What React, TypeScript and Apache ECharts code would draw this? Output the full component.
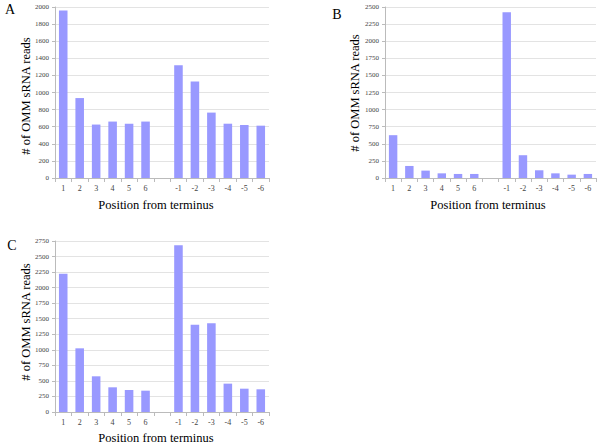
import React, { useEffect, useRef } from "react";
import * as echarts from "echarts";

const categories = ["1", "2", "3", "4", "5", "6", "", "-1", "-2", "-3", "-4", "-5", "-6"];
const valuesA = [1960, 935, 625, 660, 635, 660, null, 1320, 1130, 765, 635, 620, 612];
const valuesB = [626, 176, 108, 68, 59, 59, null, 2422, 333, 113, 68, 49, 59];
const valuesC = [2225, 1024, 574, 397, 354, 343, null, 2681, 1405, 1426, 456, 375, 365];
const yMax = [2000, 2500, 2750];
const yStep = [200, 250, 250];
const panelLetters = ["A", "B", "C"];
const xTitle = "Position from terminus";
const yTitle = "# of OMM sRNA reads";

const FONT = "Liberation Serif";

export default function App() {
  const ref = useRef<HTMLDivElement>(null);
  useEffect(() => {
    document.body.style.margin = "0";
    const chart = echarts.init(ref.current!, null, { renderer: "svg" });
    const grids = [
      { left: 55, top: 7, width: 214, height: 171 },
      { left: 385, top: 7, width: 211, height: 171 },
      { left: 55, top: 241, width: 214, height: 171 },
    ];
    const data = [valuesA, valuesB, valuesC];
    const xAxes = grids.map((_, i) => ({
      type: "category",
      gridIndex: i,
      data: categories,
      axisLine: { lineStyle: { color: "#bbbbbb", width: 1 } },
      axisTick: { show: true, interval: 0, length: 4, lineStyle: { color: "#bbbbbb" } },
      axisLabel: { interval: 0, fontFamily: FONT, fontSize: 8, color: "#444", margin: 6 },
    }));
    const yAxes = grids.map((_, i) => ({
      type: "value",
      gridIndex: i,
      min: 0,
      max: yMax[i],
      interval: yStep[i],
      axisLine: { show: true, lineStyle: { color: "#bbbbbb", width: 1 } },
      axisTick: { show: true, length: 3, lineStyle: { color: "#bbbbbb" } },
      splitLine: { lineStyle: { color: "#e3e3e3", width: 1 } },
      axisLabel: {
        fontFamily: FONT,
        fontSize: 7,
        color: "#444",
        margin: 6,
        formatter: (v: number) => String(v),
      },
    }));
    const series = data.map((d, i) => ({
      type: "bar",
      xAxisIndex: i,
      yAxisIndex: i,
      data: d,
      barWidth: "52%",
      itemStyle: { color: "#9999ff" },
    }));
    const xTitlePos = [
      [156, 205],
      [488, 205],
      [156, 438],
    ];
    const yTitlePos = [
      [26, 96],
      [355, 93],
      [26, 322],
    ];
    const letterPos = [
      [10, 9],
      [337, 14],
      [12, 245],
    ];
    const graphic: any[] = [];
    for (let i = 0; i < 3; i++) {
      graphic.push({
        type: "text",
        x: xTitlePos[i][0],
        y: xTitlePos[i][1],
        style: {
          text: xTitle,
          fontFamily: FONT,
          fontSize: 12.5,
          fill: "#000",
          textAlign: "center",
          textVerticalAlign: "middle",
        },
      });
      graphic.push({
        type: "text",
        x: yTitlePos[i][0],
        y: yTitlePos[i][1],
        rotation: Math.PI / 2,
        style: {
          text: yTitle,
          fontFamily: FONT,
          fontSize: 12.5,
          fill: "#000",
          textAlign: "center",
          textVerticalAlign: "middle",
        },
      });
      graphic.push({
        type: "text",
        x: letterPos[i][0],
        y: letterPos[i][1],
        style: {
          text: panelLetters[i],
          fontFamily: FONT,
          fontSize: 14,
          fill: "#000",
          textAlign: "center",
          textVerticalAlign: "middle",
        },
      });
    }
    chart.setOption({
      animation: false,
      backgroundColor: "#fff",
      grid: grids,
      xAxis: xAxes,
      yAxis: yAxes,
      series,
      graphic,
    });
    return () => chart.dispose();
  }, []);
  return <div ref={ref} style={{ width: 600, height: 444 }} />;
}
